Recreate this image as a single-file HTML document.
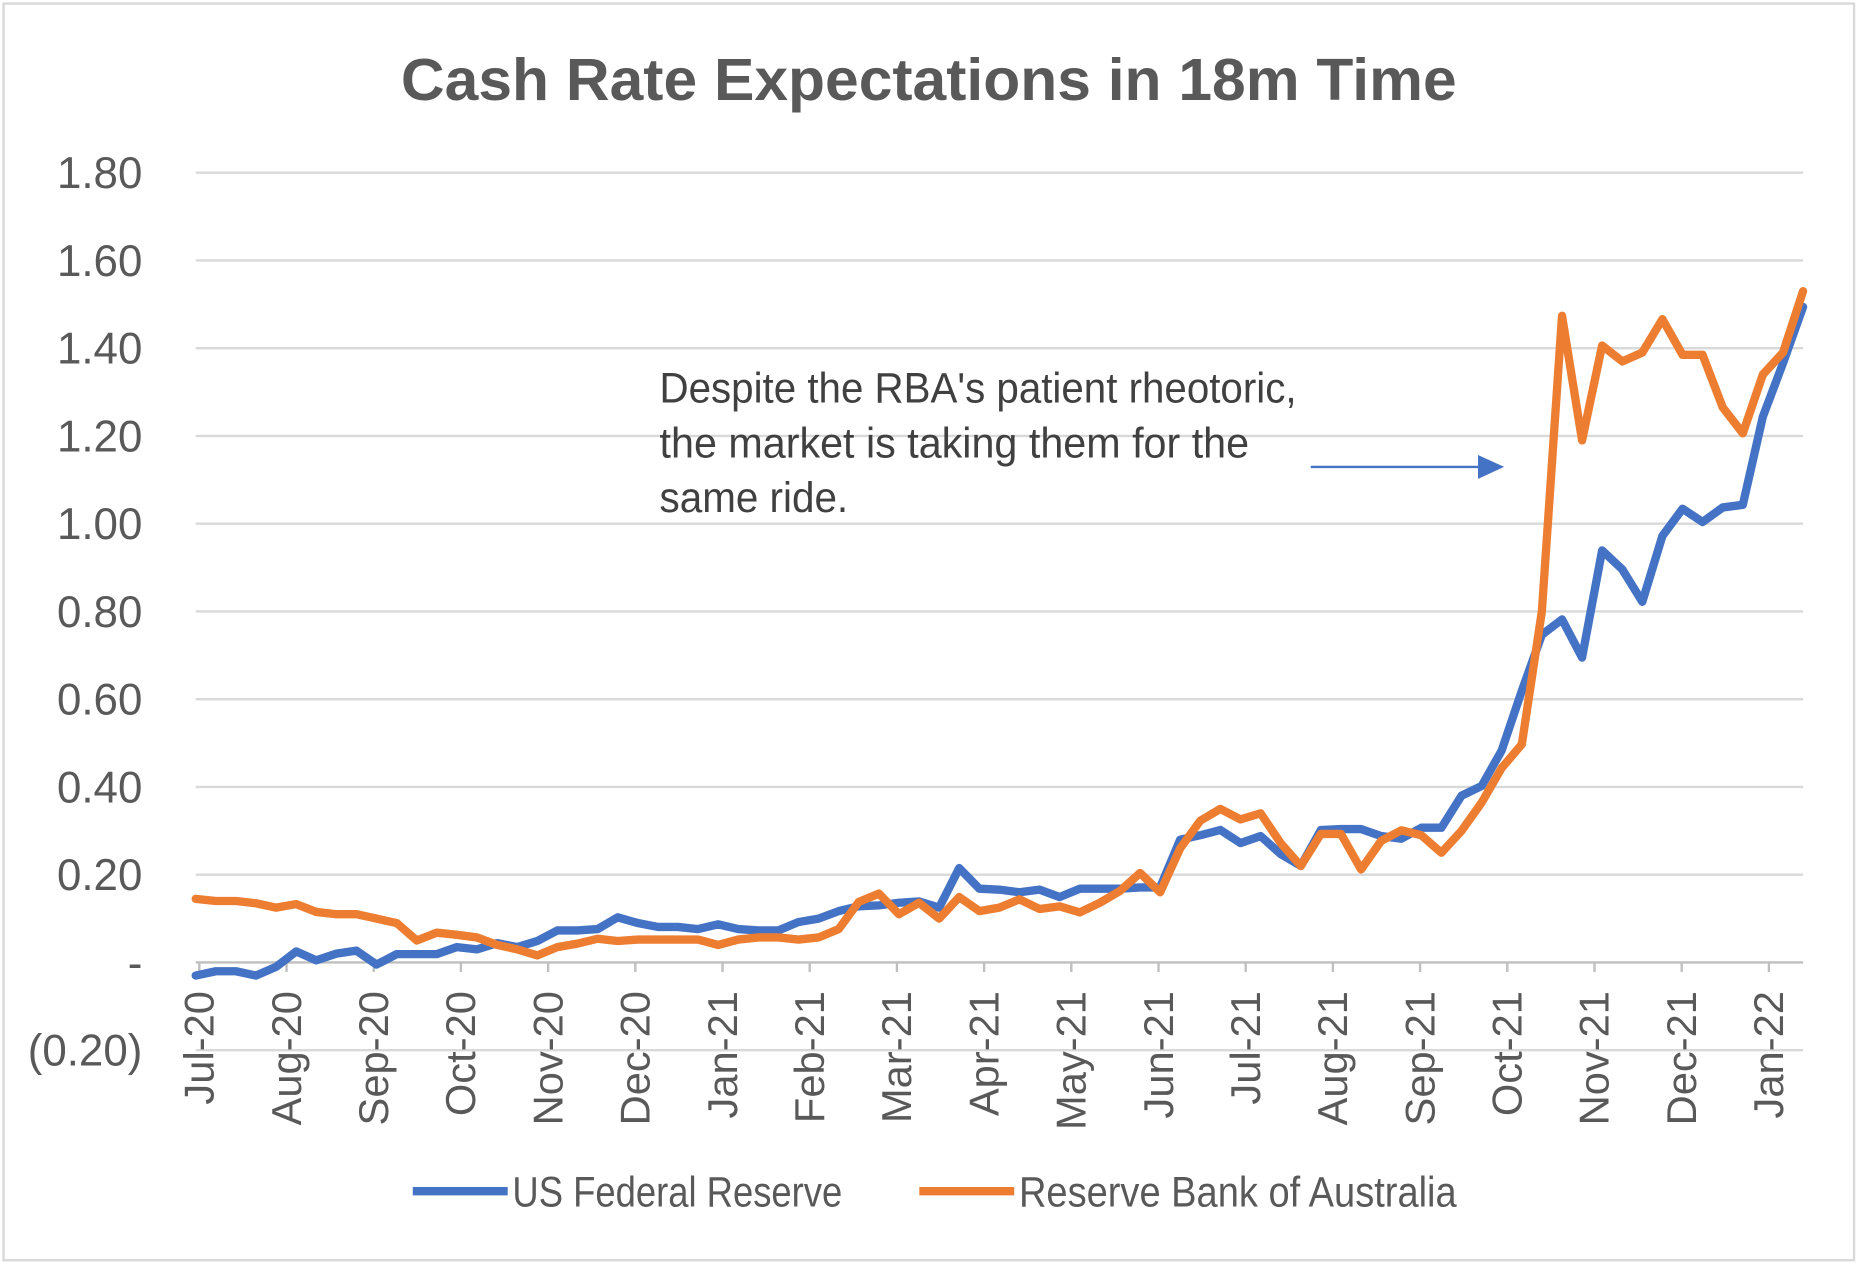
<!DOCTYPE html>
<html><head><meta charset="utf-8"><style>
html,body{margin:0;padding:0;background:#fff;}
svg{display:block;}
text{font-family:"Liberation Sans Narrow","Liberation Sans",sans-serif;}
</style></head><body>
<svg id="chart" width="1860" height="1265" viewBox="0 0 1568 1062" preserveAspectRatio="none" xmlns="http://www.w3.org/2000/svg">
<rect x="3" y="3" width="1560" height="1055" fill="#fff" stroke="#d9d9d9" stroke-width="2"/>
<text x="783" y="84" text-anchor="middle" font-size="50" font-weight="bold" fill="#595959" style="font-family:'Liberation Sans',sans-serif" textLength="890" lengthAdjust="spacingAndGlyphs">Cash Rate Expectations in 18m Time</text>
<g id="grid"></g>
<g id="yaxis"></g>
<g id="xaxis"></g>
<g id="series"></g>
<g font-size="36" fill="#404040">
<text x="556" y="338" textLength="537" lengthAdjust="spacingAndGlyphs">Despite the RBA's patient rheotoric,</text>
<text x="556" y="384" textLength="497" lengthAdjust="spacingAndGlyphs">the market is taking them for the</text>
<text x="556" y="430" textLength="159" lengthAdjust="spacingAndGlyphs">same ride.</text>
</g>
<g>
<line x1="1105" y1="392" x2="1252" y2="392" stroke="#4472c4" stroke-width="2"/>
<polygon points="1246,382 1268,392 1246,402" fill="#4472c4"/>
</g>
<g>
<g>
<line x1="348" y1="1000" x2="428" y2="1000" stroke="#4472c4" stroke-width="7"/>
<text x="432" y="1013" font-size="36" fill="#595959" textLength="278" lengthAdjust="spacingAndGlyphs">US Federal Reserve</text>
</g>
<g>
<line x1="775" y1="1000" x2="855" y2="1000" stroke="#ed7d31" stroke-width="7"/>
<text x="859" y="1013" font-size="36" fill="#595959" textLength="369" lengthAdjust="spacingAndGlyphs">Reserve Bank of Australia</text>
</g>
</g>
</svg>
<script>
const usFed = [-0.03,-0.02,-0.02,-0.03,-0.01,0.025,0.005,0.02,0.027,-0.005,
0.019,0.019,0.019,0.035,0.03,0.044,0.035,0.049,0.073,0.073,
0.076,0.103,0.09,0.081,0.081,0.076,0.087,0.076,0.073,0.073,
0.092,0.1,0.117,0.128,0.13,0.136,0.139,0.125,0.215,0.168,
0.166,0.16,0.166,0.149,0.168,0.168,0.168,0.171,0.171,0.28,
0.29,0.302,0.272,0.288,0.247,0.22,0.302,0.304,0.304,0.288,
0.282,0.307,0.307,0.38,0.402,0.483,0.619,0.747,0.782,0.695,
0.939,0.896,0.822,0.972,1.034,1.004,1.037,1.043,1.244,1.366,1.494];
const rba = [0.145,0.14,0.14,0.135,0.125,0.133,0.115,0.11,0.11,0.1,
0.09,0.05,0.068,0.063,0.057,0.04,0.03,0.016,0.035,0.043,
0.054,0.049,0.052,0.052,0.052,0.052,0.04,0.052,0.057,0.057,
0.052,0.057,0.076,0.138,0.157,0.11,0.136,0.1,0.149,0.117,
0.125,0.144,0.122,0.128,0.114,0.136,0.163,0.204,0.16,0.26,
0.323,0.35,0.326,0.34,0.272,0.22,0.293,0.293,0.212,0.277,
0.301,0.29,0.25,0.3,0.364,0.443,0.497,0.8,1.474,1.19,
1.406,1.37,1.39,1.466,1.385,1.385,1.265,1.206,1.34,1.39,1.53];
const monthLabels = ["Jul-20","Aug-20","Sep-20","Oct-20","Nov-20","Dec-20","Jan-21","Feb-21","Mar-21","Apr-21","May-21","Jun-21","Jul-21","Aug-21","Sep-21","Oct-21","Nov-21","Dec-21","Jan-22"];
const yTicks = [-0.2,0,0.2,0.4,0.6,0.8,1.0,1.2,1.4,1.6,1.8];
const yTickLabels = ["(0.20)","-","0.20","0.40","0.60","0.80","1.00","1.20","1.40","1.60","1.80"];

const NS="http://www.w3.org/2000/svg";
const X0=165, X1=1520, Y0=808, PXPER=663/1.8;
const N=usFed.length;
function xs(i){return X0+i*(X1-X0)/(N-1);}
function ys(v){return Y0-v*PXPER;}
function mk(tag,attrs,parent){const e=document.createElementNS(NS,tag);for(const k in attrs)e.setAttribute(k,attrs[k]);parent.appendChild(e);return e;}
const grid=document.getElementById('grid'),yax=document.getElementById('yaxis'),xax=document.getElementById('xaxis'),ser=document.getElementById('series');
yTicks.forEach((v,i)=>{
  const l=mk('line',{x1:X0,x2:X1,y1:ys(v),y2:ys(v),stroke:v===0?'#bfbfbf':'#d9d9d9','stroke-width':2},grid);
  
  
  const t=mk('text',{x:120,y:ys(v)+13,'text-anchor':'end','font-size':37,fill:'#595959'},yax);
  t.textContent=yTickLabels[i];
  
  
});
monthLabels.forEach((m,k)=>{
  const idx=0.18+k*4.34, x=xs(idx);
  const tk=mk('line',{x1:x,x2:x,y1:Y0,y2:Y0+8,stroke:'#bfbfbf','stroke-width':2},xax);
  
  
  const t=mk('text',{x:0,y:0,'text-anchor':'end','font-size':35,fill:'#595959',transform:`translate(${x+12},${Y0+24}) rotate(-90)`},xax);
  t.textContent=m;
  
  
});
function line(data,color,name){
  const p=mk('polyline',{points:data.map((v,i)=>xs(i).toFixed(1)+','+ys(v).toFixed(1)).join(' '),fill:'none',stroke:color,'stroke-width':7,'stroke-linejoin':'round','stroke-linecap':'round'},ser);
  
  
}
line(usFed,'#4472c4','us-fed-line');
line(rba,'#ed7d31','rba-line');
</script>
</body></html>
